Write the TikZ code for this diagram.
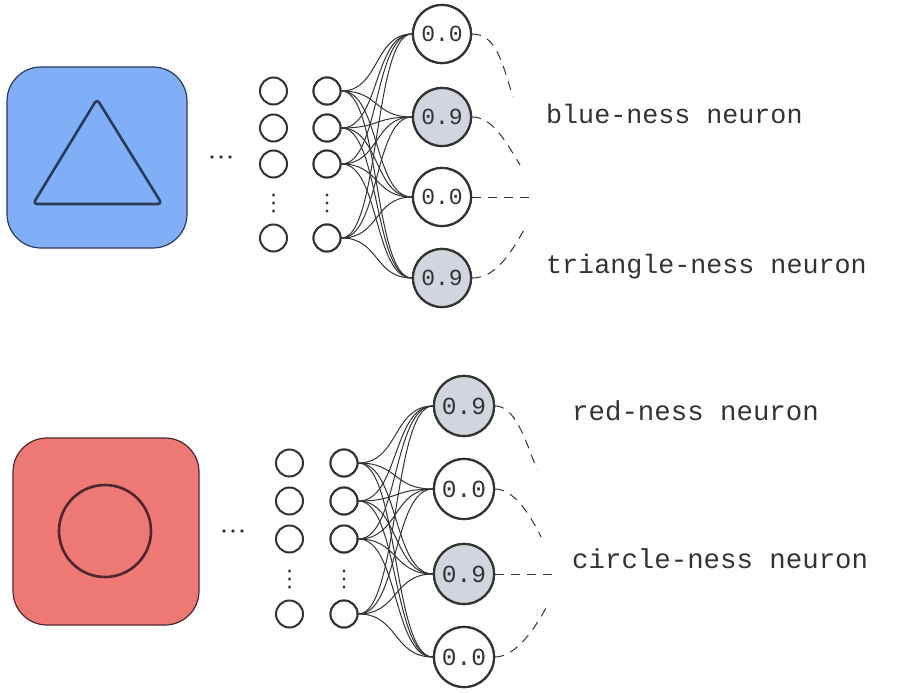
\documentclass[tikz,border=0pt]{standalone}
\usepackage{fontspec}
\setmonofont{Liberation Mono}
\definecolor{ink}{HTML}{333333}
\definecolor{bluefill}{HTML}{80AEF7}
\definecolor{blueline}{HTML}{2C3B57}
\definecolor{redfill}{HTML}{EE7873}
\definecolor{redline}{HTML}{4D2630}
\definecolor{grayfill}{HTML}{D1D5DE}
\tikzset{
  sq/.style={draw, line width=1.2pt, rounded corners=34pt, inner sep=0pt},
  small/.style={circle, draw=ink, line width=2pt, minimum size=27pt, inner sep=0pt, fill=white},
  outA/.style={circle, draw=ink, line width=2.2pt, minimum size=58pt, inner sep=0pt, fill=white, text=ink, font=\ttfamily\fontsize{23}{27}\selectfont},
  outB/.style={outA, minimum size=60pt, font=\ttfamily\fontsize{24.5}{28}\selectfont},
  hot/.style={fill=grayfill},
  conn/.style={draw=ink, line width=1pt},
  dashline/.style={draw=ink, line width=1pt, dash pattern=on 9pt off 7pt},
  lbl/.style={anchor=base west, inner sep=0pt, text=ink, font=\ttfamily\fontsize{26.7}{30}\selectfont},
  lblB/.style={lbl, font=\ttfamily\fontsize{27.4}{31}\selectfont},
  dotm/.style={fill=ink},
}
\begin{document}
\begin{tikzpicture}[x=1pt, y=-1pt]
\useasboundingbox (0,0) rectangle (905,693);

% ---------- top ----------
\node[sq, fill=bluefill, draw=blueline, minimum width=180pt, minimum height=181pt] (sqA) at (97,157.5) {};
\draw[blueline, line width=2.6pt, rounded corners=4pt, line join=round] (97,99) -- (162,204) -- (33,204) -- cycle;
\foreach \x in {212,221,230} \fill[dotm] (\x,157) circle (1.8pt);

\foreach \i/\y in {1/91,2/128,3/164,4/238} {
  \node[small] (a\i) at (273.5,\y) {};
  \node[small] (b\i) at (327,\y) {};
}
\foreach \y in {195,203,211} {
  \fill[dotm] (273.5,\y) circle (1.7pt);
  \fill[dotm] (327,\y) circle (1.7pt);
}

\node[outA] (o1) at (442,34) {0.0};
\node[outA, hot] (o2) at (442,117) {0.9};
\node[outA] (o3) at (442,197) {0.0};
\node[outA, hot] (o4) at (442,278) {0.9};

\foreach \i in {1,...,4} \foreach \j in {1,...,4}
  \draw[conn] (b\i.east) .. controls +(38,0) and +(-38,0) .. (o\j.west);
\foreach \i in {1,...,4} \node[small] at (b\i) {};
\foreach \j/\t/\s in {1/0.0/,2/0.9/hot,3/0.0/,4/0.9/hot} \node[outA,\s] at (o\j) {\t};

\coordinate (e1) at (513,97);
\coordinate (e2) at (520,165);
\coordinate (e3) at (530,197);
\coordinate (e4) at (525,228);
\draw[dashline] (o1.east) .. controls (496,34) and (502,62) .. (e1);
\draw[dashline] (o2.east) .. controls (492,117) and (505,140) .. (e2);
\draw[dashline] (o3.east) -- (e3);
\draw[dashline] (o4.east) .. controls (495,278) and (510,255) .. (e4);

\node[lbl] (l1) at (546,123) {blue-ness neuron};
\node[lbl] (l2) at (546,273) {triangle-ness neuron};

% ---------- bottom ----------
\node[sq, fill=redfill, draw=redline, minimum width=186pt, minimum height=187pt] (sqB) at (106,531.5) {};
\node[circle, draw=redline, line width=2.6pt, minimum size=92pt, inner sep=0pt] (ring) at (105,531) {};
\foreach \x in {224,233,242} \fill[dotm] (\x,531) circle (1.8pt);

\foreach \i/\y in {1/463,2/501,3/539,4/614} {
  \node[small] (c\i) at (289.5,\y) {};
  \node[small] (d\i) at (344,\y) {};
}
\foreach \y in {571,579,587} {
  \fill[dotm] (289.5,\y) circle (1.7pt);
  \fill[dotm] (344,\y) circle (1.7pt);
}

\node[outB, hot] (p1) at (464,406) {0.9};
\node[outB] (p2) at (464,489) {0.0};
\node[outB, hot] (p3) at (464,574) {0.9};
\node[outB] (p4) at (464,657) {0.0};

\foreach \i in {1,...,4} \foreach \j in {1,...,4}
  \draw[conn] (d\i.east) .. controls +(40,0) and +(-40,0) .. (p\j.west);
\foreach \i in {1,...,4} \node[small] at (d\i) {};
\foreach \j/\t/\s in {1/0.9/hot,2/0.0/,3/0.9/hot,4/0.0/} \node[outB,\s] at (p\j) {\t};

\coordinate (f1) at (537,470);
\coordinate (f2) at (541,537);
\coordinate (f3) at (555,574);
\coordinate (f4) at (549,602);
\draw[dashline] (p1.east) .. controls (514,406) and (524,435) .. (f1);
\draw[dashline] (p2.east) .. controls (512,489) and (528,510) .. (f2);
\draw[dashline] (p3.east) -- (f3);
\draw[dashline] (p4.east) .. controls (515,657) and (535,630) .. (f4);

\node[lblB] (l3) at (572,420) {red-ness neuron};
\node[lblB] (l4) at (572,568) {circle-ness neuron};
\end{tikzpicture}
\end{document}
